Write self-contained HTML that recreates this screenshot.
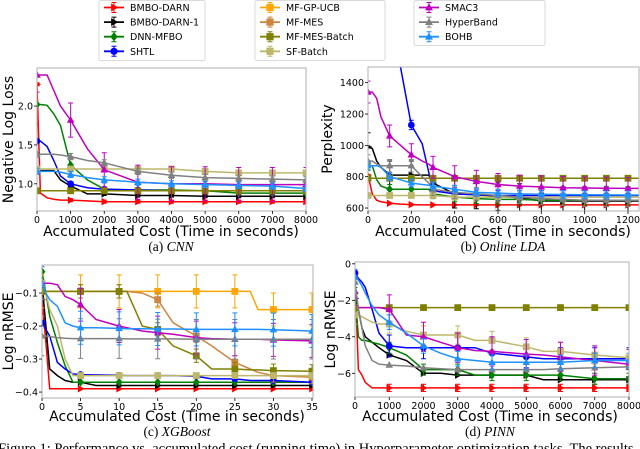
<!DOCTYPE html>
<html><head><meta charset="utf-8"><style>
html,body{margin:0;padding:0;background:#fff;width:640px;height:449px;overflow:hidden}
svg{display:block;font-family:"DejaVu Sans","Liberation Sans",sans-serif}
.cap{font-family:"Liberation Serif",serif}
</style></head><body>
<svg id="fig" width="640" height="449" viewBox="0 0 640 449" xmlns="http://www.w3.org/2000/svg">
<g id="legends"></g>
<g id="plots"></g>
<text class="cap" x="-2" y="453" font-size="14.5">Figure 1: Performance vs. accumulated cost (running time) in Hyperparameter optimization tasks. The results</text>
</svg>
<script>
// ---- series metadata ----
const names=["BMBO-DARN","BMBO-DARN-1","DNN-MFBO","SHTL","MF-GP-UCB","MF-MES","MF-MES-Batch","SF-Batch","SMAC3","HyperBand","BOHB"];
const colors=["#ff0000","#000000","#008000","#0000ff","#ffa500","#cd853f","#808000","#bdb76b","#bf00bf","#808080","#1e90ff"];
const markers=["tr","tr","d","o","s","s","s","s","t","t","t"];

// ---- (a) CNN ----
const xsA=[0,100,300,500,700,1000,1500,2000,3000,4000,5000,6000,7000,8000];
const mkA=[0,1000,2000,3000,4000,5000,6000,7000,8000];
const seriesA={
0:[2.28,0.88,0.82,0.80,0.79,0.79,0.78,0.77,0.77,0.77,0.77,0.77,0.77,0.77],
1:[1.17,1.17,1.17,1.17,1.05,0.97,0.87,0.87,0.85,0.85,0.84,0.84,0.84,0.84],
2:[2.02,2.02,2.01,1.9,1.75,1.24,1.05,0.93,0.92,0.92,0.91,0.88,0.88,0.88],
3:[1.55,1.55,1.48,1.3,1.1,1.0,0.95,0.93,0.92,0.91,0.91,0.91,0.91,0.91],
6:[0.91,0.91,0.91,0.91,0.91,0.91,0.91,0.91,0.91,0.91,0.91,0.91,0.91,0.91],
7:[1.19,1.19,1.19,1.19,1.19,1.19,1.19,1.19,1.19,1.19,1.16,1.14,1.14,1.14],
8:[2.40,2.40,2.40,2.2,2.0,1.82,1.45,1.18,1.02,1.0,1.0,0.99,0.99,0.99],
9:[1.38,1.38,1.38,1.38,1.37,1.35,1.3,1.27,1.16,1.11,1.08,1.07,1.06,1.05],
10:[1.16,1.16,1.16,1.16,1.15,1.12,1.08,1.05,1.02,1.0,0.99,0.98,0.97,0.94]};
const errA={8:0.22,9:0.04,10:0.04,0:0.02,1:0.02};
const xticksA=[0,1000,2000,3000,4000,5000,6000,7000,8000];
const yticksA=[1.0,1.5,2.0];
const ylabA=["1.0","1.5","2.0"];

// ---- (b) Online LDA ----
const xsB=[0,20,40,60,100,150,200,250,280,300,400,500,600,700,800,900,1000,1100,1200,1250];
const mkB=[0,100,200,300,400,500,600,700,800,900,1000,1100,1200];
const seriesB={
7:[680,680,680,680,680,680,680,680,680,680,670,670,670,670,670,670,670,670,670,670],
6:[790,790,790,790,790,790,790,790,790,790,790,790,790,790,790,790,790,790,790,790],
9:[900,900,880,870,870,870,870,800,760,720,700,690,680,670,660,655,650,650,650,650],
10:[870,870,870,860,800,780,760,750,745,740,720,700,695,690,688,686,685,684,683,683],
2:[870,870,780,740,720,720,720,720,720,690,670,660,655,655,650,650,650,650,650,650],
8:[1340,1340,1300,1180,1060,1000,940,900,880,860,800,770,750,740,735,730,728,726,725,725],
3:[2500,2300,2100,1900,1700,1500,1130,1010,830,710,690,685,680,680,680,680,680,680,680,680],
1:[990,980,900,860,810,810,810,810,810,760,690,685,675,665,645,645,645,645,645,645],
0:[810,690,650,640,630,625,622,620,620,620,620,620,620,620,620,620,620,620,620,620]};
const errB={8:70,9:40,1:90,3:30,2:30,10:25};
const xticksB=[0,200,400,600,800,1000,1200];
const yticksB=[600,800,1000,1200,1400];
const ylabB=["600","800","1000","1200","1400"];

// ---- (c) XGBoost ----
const xsC=[0,0.5,1,2,3,4,5,7,10,11,13,15,17,20,22,25,27,28,30,35];
const mkC=[0,5,10,15,20,25,30,35];
const seriesC={
4:[-0.095,-0.095,-0.095,-0.095,-0.095,-0.095,-0.095,-0.095,-0.095,-0.095,-0.095,-0.095,-0.095,-0.095,-0.095,-0.095,-0.095,-0.15,-0.15,-0.15],
5:[-0.095,-0.095,-0.095,-0.095,-0.095,-0.095,-0.095,-0.095,-0.095,-0.095,-0.1,-0.12,-0.19,-0.23,-0.26,-0.31,-0.33,-0.34,-0.35,-0.355],
6:[-0.095,-0.095,-0.095,-0.095,-0.095,-0.095,-0.095,-0.095,-0.095,-0.095,-0.2,-0.21,-0.26,-0.29,-0.33,-0.33,-0.333,-0.333,-0.335,-0.337],
7:[-0.07,-0.1,-0.15,-0.2,-0.3,-0.35,-0.35,-0.35,-0.35,-0.35,-0.35,-0.35,-0.35,-0.35,-0.35,-0.35,-0.35,-0.35,-0.35,-0.35],
9:[-0.23,-0.23,-0.232,-0.235,-0.237,-0.238,-0.238,-0.238,-0.238,-0.239,-0.239,-0.239,-0.239,-0.24,-0.24,-0.24,-0.24,-0.24,-0.24,-0.24],
8:[-0.07,-0.07,-0.07,-0.075,-0.11,-0.12,-0.135,-0.18,-0.2,-0.205,-0.215,-0.22,-0.225,-0.235,-0.238,-0.24,-0.24,-0.24,-0.242,-0.245],
10:[-0.07,-0.1,-0.12,-0.14,-0.19,-0.2,-0.205,-0.205,-0.207,-0.208,-0.208,-0.209,-0.209,-0.21,-0.21,-0.21,-0.21,-0.21,-0.211,-0.215],
3:[-0.19,-0.21,-0.23,-0.31,-0.33,-0.345,-0.347,-0.348,-0.349,-0.35,-0.35,-0.35,-0.35,-0.352,-0.36,-0.36,-0.365,-0.365,-0.365,-0.37],
2:[-0.035,-0.1,-0.17,-0.25,-0.32,-0.37,-0.37,-0.37,-0.37,-0.37,-0.37,-0.37,-0.37,-0.37,-0.37,-0.37,-0.37,-0.37,-0.37,-0.37],
1:[-0.07,-0.2,-0.33,-0.35,-0.365,-0.37,-0.37,-0.38,-0.38,-0.38,-0.38,-0.38,-0.38,-0.38,-0.38,-0.38,-0.38,-0.38,-0.38,-0.38],
0:[-0.12,-0.25,-0.39,-0.39,-0.39,-0.39,-0.39,-0.39,-0.39,-0.39,-0.39,-0.39,-0.39,-0.39,-0.39,-0.39,-0.39,-0.39,-0.39,-0.39]};
const errC={9:0.06,10:0.05,8:0.05,4:0.05,6:0.02,5:0.02};
const xticksC=[0,5,10,15,20,25,30,35];
const yticksC=[-0.4,-0.3,-0.2,-0.1];
const ylabC=["\u22120.4","\u22120.3","\u22120.2","\u22120.1"];

// ---- (d) PINN ----
const xsD=[0,100,200,300,500,700,1000,1500,2000,2500,3000,3500,4000,5000,5500,6000,7000,8000];
const mkD=[0,1000,2000,3000,4000,5000,6000,7000,8000];
const seriesD={
6:[-2.4,-2.4,-2.4,-2.4,-2.4,-2.4,-2.4,-2.4,-2.4,-2.4,-2.4,-2.4,-2.4,-2.4,-2.4,-2.4,-2.4,-2.4],
7:[-2.8,-2.8,-2.9,-3.0,-3.2,-3.3,-3.3,-3.7,-3.9,-3.9,-3.9,-4.2,-4.2,-4.55,-4.8,-4.8,-5.0,-5.15],
8:[-1.5,-2.4,-2.4,-2.4,-2.4,-2.4,-2.5,-3.9,-4.0,-4.3,-4.6,-4.75,-4.8,-4.95,-5.0,-5.1,-5.3,-5.5],
9:[-1.0,-2.5,-3.5,-4.5,-5.3,-5.5,-5.55,-5.6,-5.7,-5.75,-5.8,-5.8,-5.8,-5.8,-5.8,-5.75,-5.7,-5.65],
10:[-0.7,-0.9,-1.2,-1.6,-2.3,-2.8,-3.2,-3.8,-4.5,-4.9,-5.2,-5.3,-5.4,-5.4,-5.4,-5.4,-5.3,-5.3],
3:[-0.5,-0.8,-1.0,-1.3,-2.5,-3.8,-4.5,-4.6,-4.6,-4.6,-4.6,-4.6,-4.9,-5.1,-5.2,-5.2,-5.2,-5.2],
2:[-1.6,-4.0,-4.2,-4.2,-4.3,-4.4,-4.6,-5.0,-5.8,-5.8,-5.8,-6.1,-6.1,-6.1,-6.1,-6.1,-6.3,-6.3],
1:[-1.9,-2.5,-3.5,-4.0,-4.3,-4.6,-5.0,-5.3,-6.0,-6.0,-6.1,-6.1,-6.1,-6.1,-6.35,-6.35,-6.35,-6.35],
0:[-0.8,-5.8,-6.1,-6.5,-6.8,-6.8,-6.8,-6.8,-6.8,-6.8,-6.8,-6.8,-6.8,-6.8,-6.8,-6.8,-6.8,-6.8]};
const errD={8:0.8,7:0.5,3:0.6,10:0.4,0:0.2,2:0.3};
const xticksD=[0,1000,2000,3000,4000,5000,6000,7000,8000];
const yticksD=[-6,-4,-2,0];
const ylabD=["\u22126","\u22124","\u22122","0"];

const NS="http://www.w3.org/2000/svg";
function mk(tag,attrs,parent){const e=document.createElementNS(NS,tag);for(const k in attrs)e.setAttribute(k,attrs[k]);if(parent)parent.appendChild(e);return e;}

function markerPath(type,x,y,r){
  if(type==="s")return `M${x-r},${y-r}h${2*r}v${2*r}h${-2*r}z`;
  if(type==="d")return `M${x},${y-r*1.3}L${x+r},${y}L${x},${y+r*1.3}L${x-r},${y}z`;
  if(type==="t")return `M${x},${y-r*1.2}L${x+r*1.1},${y+r*0.8}L${x-r*1.1},${y+r*0.8}z`;
  if(type==="tr")return `M${x+r*1.2},${y}L${x-r*0.8},${y-r*1.1}L${x-r*0.8},${y+r*1.1}z`;
  return null;
}
function drawMarker(g,type,x,y,r,c){
  let m;
  if(type==="o")m=mk("circle",{cx:x,cy:y,r:r,fill:c},g);
  else m=mk("path",{d:markerPath(type,x,y,r),fill:c},g);
  return m;
}

const plots=[
 {id:"cnn",L:37,R:306,T:68,B:211,x0:0,x1:8000,y0:0.65,y1:2.49,xs:xsA,mk:mkA,s:seriesA,err:errA,xt:xticksA,yt:yticksA,yl:ylabA,ylabel:"Negative Log Loss",ylx:9,cap:"CNN",capL:"(a) ",cx:171,xlY:236,capY:251},
 {id:"lda",L:368,R:639,T:67,B:211,x0:0,x1:1200,y0:581,y1:1500,xs:xsB,mk:mkB,s:seriesB,err:errB,xt:xticksB,yt:yticksB,yl:ylabB,ylabel:"Perplexity",ylx:328,cap:"Online LDA",capL:"(b) ",cx:503,xlY:236,capY:251,xr:628},
 {id:"xgboost",L:42,R:313,T:265,B:398,x0:0,x1:35,y0:-0.418,y1:-0.015,xs:xsC,mk:mkC,s:seriesC,err:errC,xt:xticksC,yt:yticksC,yl:ylabC,ylabel:"Log nRMSE",ylx:9,cap:"XGBoost",capL:"(c) ",cx:177,xlY:421,capY:436,xr:312},
 {id:"pinn",L:355,R:629,T:262,B:397,x0:0,x1:8000,y0:-7.3,y1:0.1,xs:xsD,mk:mkD,s:seriesD,err:errD,xt:xticksD,yt:yticksD,yl:ylabD,ylabel:"Log nRMSE",ylx:331,cap:"PINN",capL:"(d) ",cx:490,xlY:421,capY:436}
];

const root=document.getElementById("plots");
plots.forEach((p,pi)=>{
  const xr=p.xr||p.R;
  const X=v=>p.L+(v-p.x0)/(p.x1-p.x0)*(xr-p.L);
  const Y=v=>p.B-(v-p.y0)/(p.y1-p.y0)*(p.B-p.T);
  const g=mk("g",{},root);
  
  
  const cp=mk("clipPath",{id:"clip"+pi},g);
  mk("rect",{x:p.L,y:p.T,width:p.R-p.L,height:p.B-p.T},cp);
  const area=mk("g",{"clip-path":`url(#clip${pi})`},g);
  Object.keys(p.s).forEach(k=>{
    const idx=+k, vals=p.s[k], c=colors[idx];
    const sg=mk("g",{},area);
    
    
    const d=vals.map((v,i)=>(i?"L":"M")+X(p.xs[i]).toFixed(1)+","+Y(v).toFixed(1)).join("");
    mk("path",{d:d,fill:"none",stroke:c,"stroke-width":1.5},sg);
    const interp=x=>{for(let i=1;i<p.xs.length;i++){if(x<=p.xs[i]){const t=(x-p.xs[i-1])/(p.xs[i]-p.xs[i-1]);return vals[i-1]+t*(vals[i]-vals[i-1]);}}return vals[vals.length-1];};
    p.mk.forEach(mx=>{
      const v=interp(mx), px=X(mx), py=Y(v);
      if(p.err[idx]){const e=p.err[idx];
        mk("path",{d:`M${px},${Y(v+e)}V${Y(v-e)}M${px-2.5},${Y(v+e)}h5M${px-2.5},${Y(v-e)}h5`,stroke:c,"stroke-width":1,fill:"none"},sg);}
      const m=drawMarker(sg,markers[idx],px,py,3.4,c);
      
      
    });
  });
  mk("rect",{x:p.L,y:p.T,width:p.R-p.L,height:p.B-p.T,fill:"none",stroke:"#b0b0b0","stroke-width":1},g);
  const xa=mk("g",{},g);
  
  
  p.xt.forEach(t=>{const x=X(t);
    mk("line",{x1:x,x2:x,y1:p.B,y2:p.B+3,stroke:"#000","stroke-width":0.8},xa);
    const tx=mk("text",{x:x,y:p.B+12,"font-size":9.5,"text-anchor":"middle",fill:"#000"},xa);tx.textContent=String(t);
    
    });
  const ya=mk("g",{},g);
  
  
  p.yt.forEach((t,i)=>{const y=Y(t);
    mk("line",{x1:p.L-3,x2:p.L,y1:y,y2:y,stroke:"#000","stroke-width":0.8},ya);
    const tx=mk("text",{x:p.L-4,y:y+3.5,"font-size":9.5,"text-anchor":"end",fill:"#000"},ya);tx.textContent=p.yl[i];
    
    });
  const yt=mk("text",{x:p.ylx,y:(p.T+p.B)/2,"font-size":14,"text-anchor":"middle",transform:`rotate(-90 ${p.ylx} ${(p.T+p.B)/2})`,"dominant-baseline":"central"},g);
  yt.textContent=p.ylabel;
  
  
  const xt=mk("text",{x:p.cx,y:p.xlY,"font-size":14,"text-anchor":"middle"},g);
  xt.textContent="Accumulated Cost (Time in seconds)";
  
  
  const cap=mk("text",{x:p.cx,y:p.capY,"font-size":13.5,"text-anchor":"middle","class":"cap"},g);
  cap.appendChild(document.createTextNode(p.capL));
  const it=mk("tspan",{"font-style":"italic"},cap);it.textContent=p.cap;
  
  
});

// legends
const lg=document.getElementById("legends");
const boxes=[{x:99,w:106,h:60,items:[0,1,2,3]},{x:255,w:130,h:60,items:[4,5,6,7]},{x:414,w:131,h:45,items:[8,9,10]}];
boxes.forEach(b=>{
  mk("rect",{x:b.x,y:0.5,width:b.w,height:b.h,rx:2,fill:"#fff",stroke:"#d0d0d0","stroke-width":0.8},lg);
  b.items.forEach((idx,j)=>{
    const y=7.5+j*14.6, c=colors[idx];
    const e=mk("g",{},lg);
    
    
    mk("line",{x1:b.x+5,x2:b.x+25,y1:y,y2:y,stroke:c,"stroke-width":1.8},e);
    mk("path",{d:`M${b.x+15},${y-5}V${y+5}M${b.x+12.5},${y-5}h5M${b.x+12.5},${y+5}h5`,stroke:c,"stroke-width":1},e);
    drawMarker(e,markers[idx],b.x+15,y,3.6,c);
    const t=mk("text",{x:b.x+31,y:y+3.5,"font-size":9.5},e);t.textContent=names[idx];
  });
});
</script>
</body></html>
